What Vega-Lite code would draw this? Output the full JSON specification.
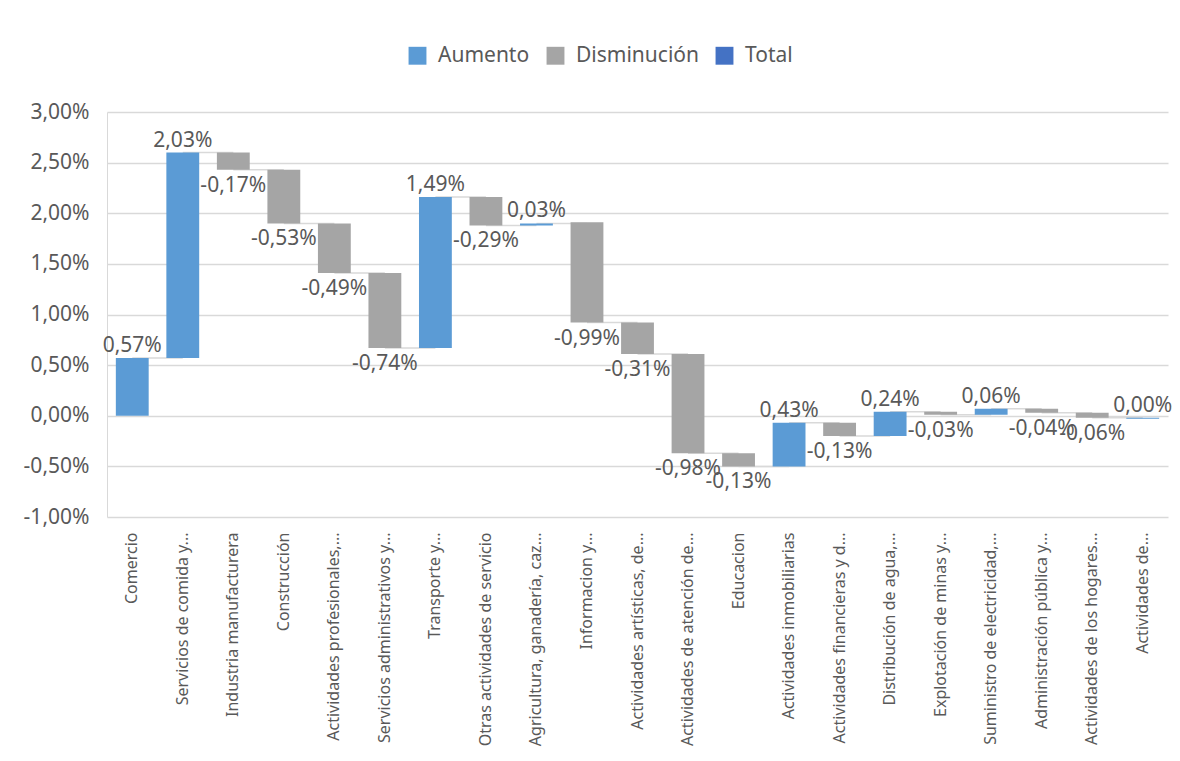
{
  "$schema": "https://vega.github.io/schema/vega-lite/v6.json",
  "width": 1061,
  "height": 405,
  "autosize": {"type": "none"},
  "padding": {"left": 107, "top": 112, "right": 12, "bottom": 244},
  "background": "white",
  "config": {
    "locale": {"number": {"decimal": ",", "thousands": ".", "grouping": [3], "currency": ["", " €"], "minus": "-"}},
    "font": "Noto Sans",
    "view": {"stroke": null}
  },
  "data": {
    "values": [
      {"cat": "Comercio", "next": "Servicios de comida y...", "type": "Aumento", "value": 0.0057, "start": 0, "end": 0.0057},
      {"cat": "Servicios de comida y...", "next": "Industria manufacturera", "type": "Aumento", "value": 0.0203, "start": 0.0057, "end": 0.0260},
      {"cat": "Industria manufacturera", "next": "Construcción", "type": "Disminución", "value": -0.0017, "start": 0.0260, "end": 0.0243},
      {"cat": "Construcción", "next": "Actividades profesionales,...", "type": "Disminución", "value": -0.0053, "start": 0.0243, "end": 0.0190},
      {"cat": "Actividades profesionales,...", "next": "Servicios administrativos y...", "type": "Disminución", "value": -0.0049, "start": 0.0190, "end": 0.0141},
      {"cat": "Servicios administrativos y...", "next": "Transporte y...", "type": "Disminución", "value": -0.0074, "start": 0.0141, "end": 0.0067},
      {"cat": "Transporte y...", "next": "Otras actividades de servicio", "type": "Aumento", "value": 0.0149, "start": 0.0067, "end": 0.0216},
      {"cat": "Otras actividades de servicio", "next": "Agricultura, ganadería, caz...", "type": "Disminución", "value": -0.0029, "start": 0.0216, "end": 0.0188},
      {"cat": "Agricultura, ganadería, caz...", "next": "Informacion y...", "type": "Aumento", "value": 0.0003, "start": 0.0188, "end": 0.0190},
      {"cat": "Informacion y...", "next": "Actividades artísticas, de...", "type": "Disminución", "value": -0.0099, "start": 0.0191, "end": 0.0092},
      {"cat": "Actividades artísticas, de...", "next": "Actividades de atención de...", "type": "Disminución", "value": -0.0031, "start": 0.0092, "end": 0.0061},
      {"cat": "Actividades de atención de...", "next": "Educacion", "type": "Disminución", "value": -0.0098, "start": 0.0061, "end": -0.0037},
      {"cat": "Educacion", "next": "Actividades inmobiliarias", "type": "Disminución", "value": -0.0013, "start": -0.0037, "end": -0.0050},
      {"cat": "Actividades inmobiliarias", "next": "Actividades financieras y d...", "type": "Aumento", "value": 0.0043, "start": -0.0050, "end": -0.0007},
      {"cat": "Actividades financieras y d...", "next": "Distribución de agua,...", "type": "Disminución", "value": -0.0013, "start": -0.0007, "end": -0.0020},
      {"cat": "Distribución de agua,...", "next": "Explotación de minas y...", "type": "Aumento", "value": 0.0024, "start": -0.0020, "end": 0.0004},
      {"cat": "Explotación de minas y...", "next": "Suministro de electricidad,...", "type": "Disminución", "value": -0.0003, "start": 0.0004, "end": 0.0001},
      {"cat": "Suministro de electricidad,...", "next": "Administración pública y...", "type": "Aumento", "value": 0.0006, "start": 0.0001, "end": 0.0007},
      {"cat": "Administración pública y...", "next": "Actividades de los hogares...", "type": "Disminución", "value": -0.0004, "start": 0.0007, "end": 0.0003},
      {"cat": "Actividades de los hogares...", "next": "Actividades de...", "type": "Disminución", "value": -0.0006, "start": 0.0003, "end": -0.0002},
      {"cat": "Actividades de...", "type": "Aumento", "value": 0, "start": -0.0003, "end": -0.0002}
    ]
  },
  "encoding": {
    "x": {
      "field": "cat",
      "type": "nominal",
      "sort": null,
      "scale": {
        "domain": ["Comercio", "Servicios de comida y...", "Industria manufacturera", "Construcción", "Actividades profesionales,...", "Servicios administrativos y...", "Transporte y...", "Otras actividades de servicio", "Agricultura, ganadería, caz...", "Informacion y...", "Actividades artísticas, de...", "Actividades de atención de...", "Educacion", "Actividades inmobiliarias", "Actividades financieras y d...", "Distribución de agua,...", "Explotación de minas y...", "Suministro de electricidad,...", "Administración pública y...", "Actividades de los hogares...", "Actividades de..."],
        "paddingInner": 0.35,
        "paddingOuter": 0.175
      },
      "axis": {
        "title": null,
        "labelAngle": -90,
        "labelFontSize": 16,
        "labelColor": "#595959",
        "labelLimit": 320,
        "labelPadding": 15,
        "ticks": false,
        "domain": false,
        "grid": false
      }
    }
  },
  "layer": [
    {
      "transform": [{"filter": "isValid(datum.next)"}],
      "mark": {"type": "rule", "color": "#D9D9D9", "strokeWidth": 1.5},
      "encoding": {
        "x": {"field": "cat", "type": "nominal", "bandPosition": 0.5},
        "x2": {"field": "next", "bandPosition": 0.5},
        "y": {"field": "end", "type": "quantitative"}
      }
    },
    {
      "mark": {"type": "bar"},
      "encoding": {
        "y": {
          "field": "start",
          "type": "quantitative",
          "scale": {"domain": [-0.01, 0.03], "nice": false, "zero": false},
          "axis": {
            "title": null,
            "values": [-0.01, -0.005, 0, 0.005, 0.01, 0.015, 0.02, 0.025, 0.03],
            "format": ".2%",
            "labelFontSize": 21,
            "labelColor": "#595959",
            "labelPadding": 18,
            "ticks": false,
            "domainColor": "#D9D9D9",
            "gridColor": "#D9D9D9",
            "gridWidth": 1.3
          }
        },
        "y2": {"field": "end"},
        "color": {
          "field": "type",
          "type": "nominal",
          "scale": {"domain": ["Aumento", "Disminución", "Total"], "range": ["#5B9BD5", "#A5A5A5", "#4472C4"]},
          "legend": {
            "orient": "none",
            "legendX": 300,
            "legendY": -67,
            "direction": "horizontal",
            "title": null,
            "symbolType": "square",
            "symbolSize": 320,
            "symbolStrokeWidth": 0,
            "labelFontSize": 21,
            "labelColor": "#595959",
            "labelOffset": 10,
            "columnPadding": 15
          }
        }
      }
    },
    {
      "transform": [{"filter": "datum.type == 'Aumento'"}],
      "mark": {"type": "text", "baseline": "alphabetic", "dy": -6, "fontSize": 21, "color": "#595959"},
      "encoding": {
        "y": {"field": "end", "type": "quantitative"},
        "text": {"field": "value", "type": "quantitative", "format": ".2%"}
      }
    },
    {
      "transform": [{"filter": "datum.type == 'Disminución'"}],
      "mark": {"type": "text", "baseline": "top", "dy": 5, "fontSize": 21, "color": "#595959"},
      "encoding": {
        "y": {"field": "end", "type": "quantitative"},
        "text": {"field": "value", "type": "quantitative", "format": ".2%"}
      }
    }
  ]
}
